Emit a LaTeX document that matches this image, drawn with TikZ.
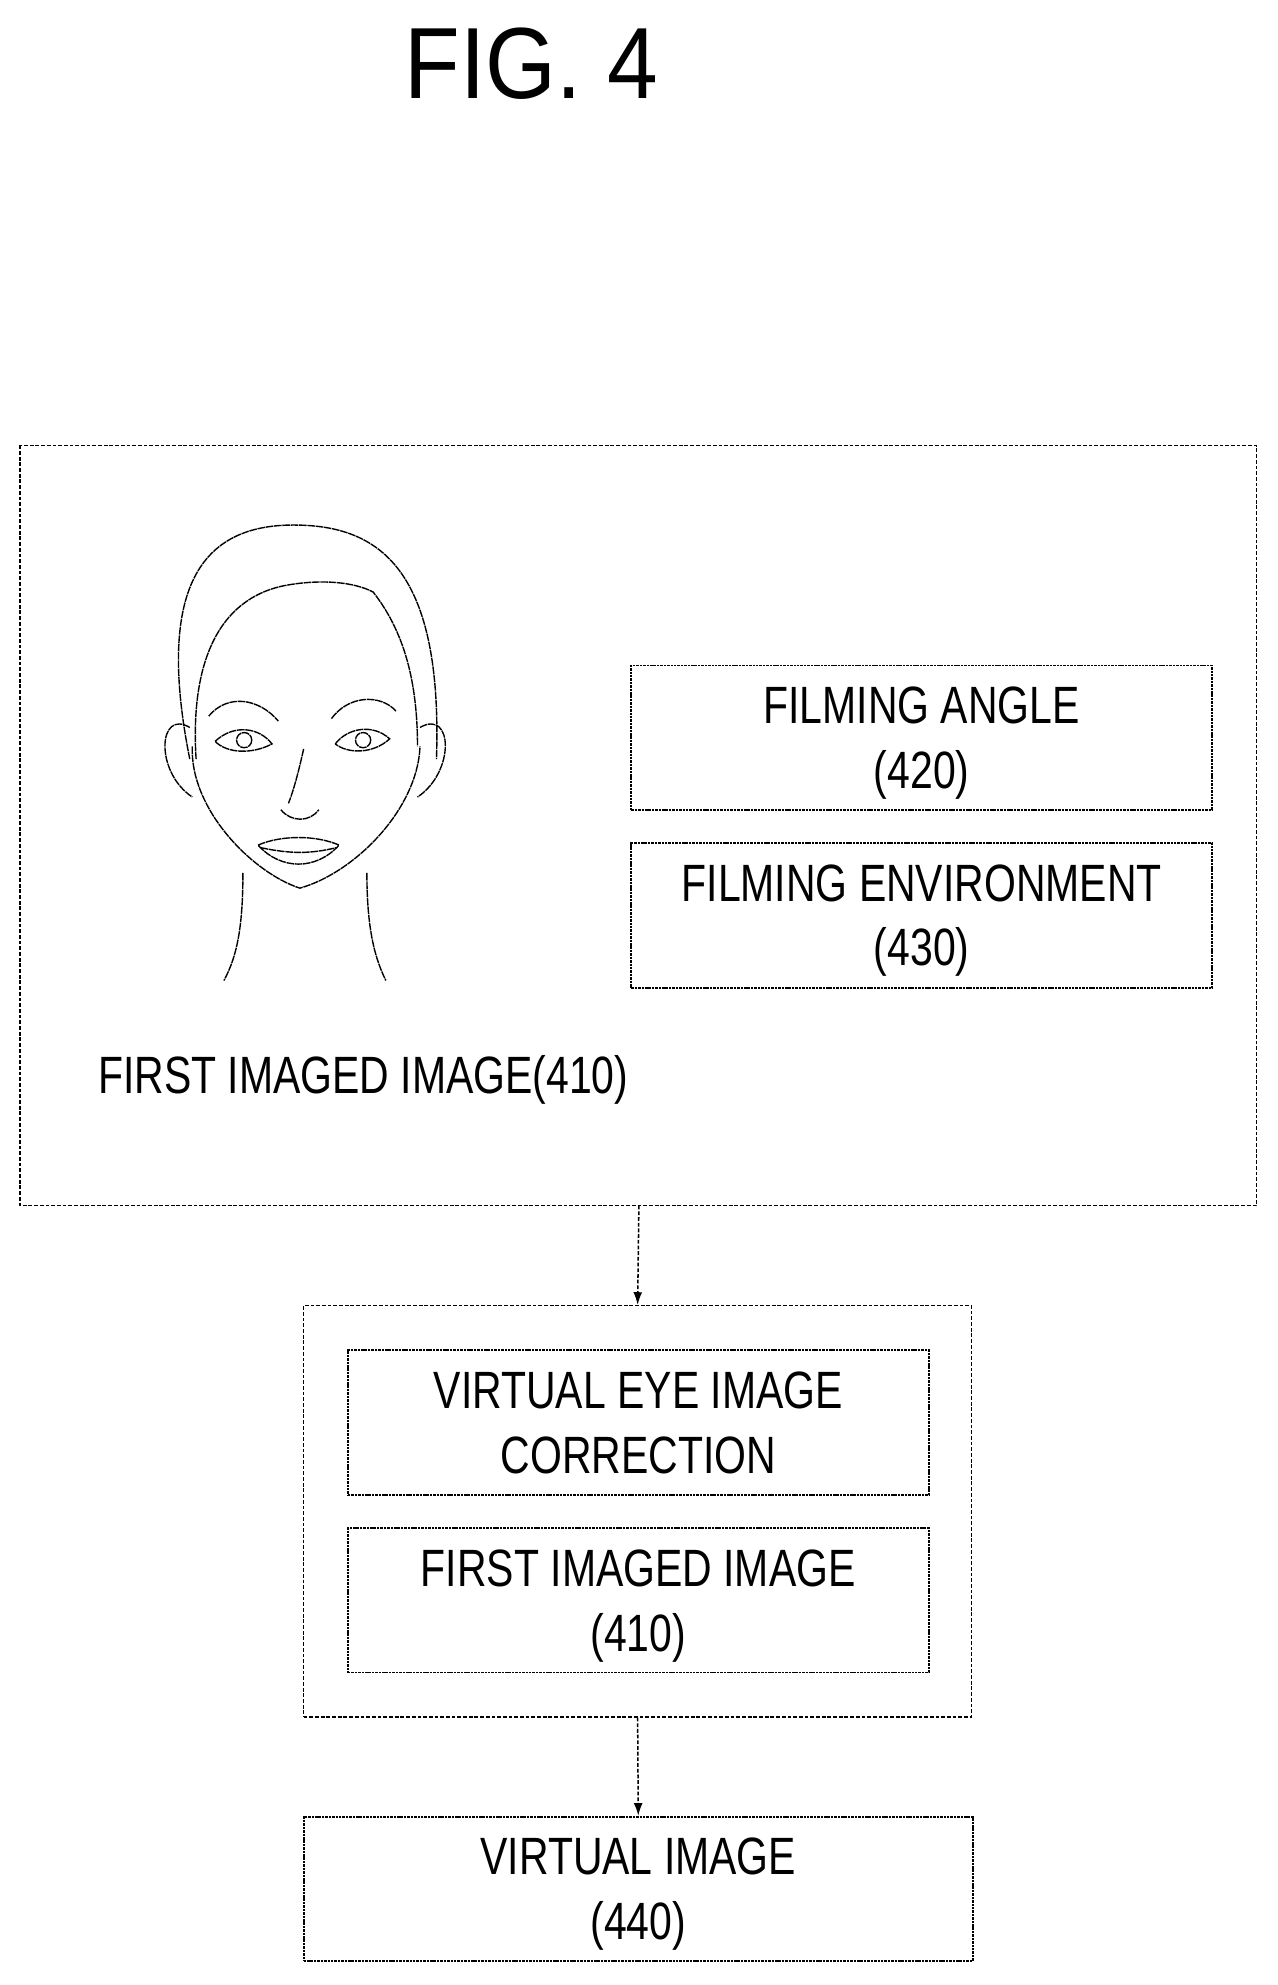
\documentclass[tikz,border=0pt]{standalone}
\usepackage{fontspec}
\setmainfont{Liberation Sans}[FakeStretch=0.78]
\newfontfamily\figfont{Liberation Sans}[FakeStretch=0.9]
\usetikzlibrary{arrows.meta}
\begin{document}
\begin{tikzpicture}[x=1pt,y=-1pt,
  dbox/.style={draw,dashed,dash pattern=on 3pt off 1.5pt,line width=1.2pt},
  ibox/.style={draw,dash pattern=on 2pt off 0.7pt,line width=1.5pt},
  lbl/.style={font=\fontsize{41.5}{51}\selectfont,align=center,text depth=0pt},
  face/.style={line width=1.1pt,dash pattern=on 6pt off 0.6pt},
  conn/.style={draw,dashed,dash pattern=on 3pt off 1.5pt,line width=1.2pt,-{Latex[length=10pt,width=7pt]}}]
\useasboundingbox (0,0) rectangle (1010,1569);
\node[font=\figfont\fontsize{80}{90}\selectfont] (fig) at (420,50) {FIG. 4};
\draw[dbox] (16,352) rectangle (993,953);
\coordinate (outbot) at (505,953);
% face
\draw[face] (150,600) .. controls (120,450) and (170,415) .. (232,415) .. controls (300,415) and (350,450) .. (345,600);
\draw[face] (155,600) .. controls (150,520) and (175,470) .. (230,462) .. controls (255,458) and (280,460) .. (295,468) .. controls (320,500) and (330,540) .. (330,590);
\draw[face] (152,590) .. controls (150,640) and (200,690) .. (237,702) .. controls (280,690) and (330,640) .. (332,590);
\draw[face] (150,575) .. controls (125,560) and (122,610) .. (152,630);
\draw[face] (332,575) .. controls (358,560) and (360,610) .. (330,630);
\draw[face] (192,690) .. controls (192,730) and (188,755) .. (177,775);
\draw[face] (290,690) .. controls (290,730) and (295,755) .. (305,775);
\draw[face] (165,566) .. controls (180,548) and (205,552) .. (220,570);
\draw[face] (262,568) .. controls (275,550) and (300,548) .. (313,562);
\draw[face] (170,586) .. controls (185,572) and (205,575) .. (215,588) .. controls (200,596) and (180,596) .. (170,586);
\draw[face] (265,588) .. controls (275,575) and (295,572) .. (308,584) .. controls (295,596) and (275,596) .. (265,588);
\draw[face] (193,585) circle (6);
\draw[face] (287,585) circle (6);
\draw[face] (240,592) .. controls (236,610) and (232,625) .. (228,635);
\draw[face] (222,640) .. controls (230,650) and (245,650) .. (252,640);
\draw[face] (204,668) .. controls (222,660) and (250,660) .. (268,668) .. controls (250,688) and (222,688) .. (204,668);
\draw[face] (206,670) .. controls (230,675) and (245,675) .. (266,670);
% right boxes
\node[ibox,lbl,minimum width=459pt,minimum height=114pt] (angle) at (728.5,583) {FILMING ANGLE\\(420)};
\node[ibox,lbl,minimum width=459pt,minimum height=115pt] (env) at (728.5,723.5) {FILMING ENVIRONMENT\\(430)};
\node[lbl,anchor=west] (fii) at (74,849) {FIRST IMAGED IMAGE(410)};
% middle
\node[dbox,minimum width=528pt,minimum height=325pt] (mid) at (504,1194.5) {};
\node[ibox,lbl,minimum width=459pt,minimum height=115pt] (vei) at (504.5,1124.5) {VIRTUAL EYE IMAGE\\CORRECTION};
\node[ibox,lbl,minimum width=459pt,minimum height=114pt] (fii2) at (504.5,1265) {FIRST IMAGED IMAGE\\(410)};
\node[ibox,lbl,minimum width=529pt,minimum height=114pt] (vi) at (504.5,1493) {VIRTUAL IMAGE\\(440)};
\draw[conn] (outbot) -- (mid.north);
\draw[conn] (mid.south) -- (vi.north);
\end{tikzpicture}
\end{document}
